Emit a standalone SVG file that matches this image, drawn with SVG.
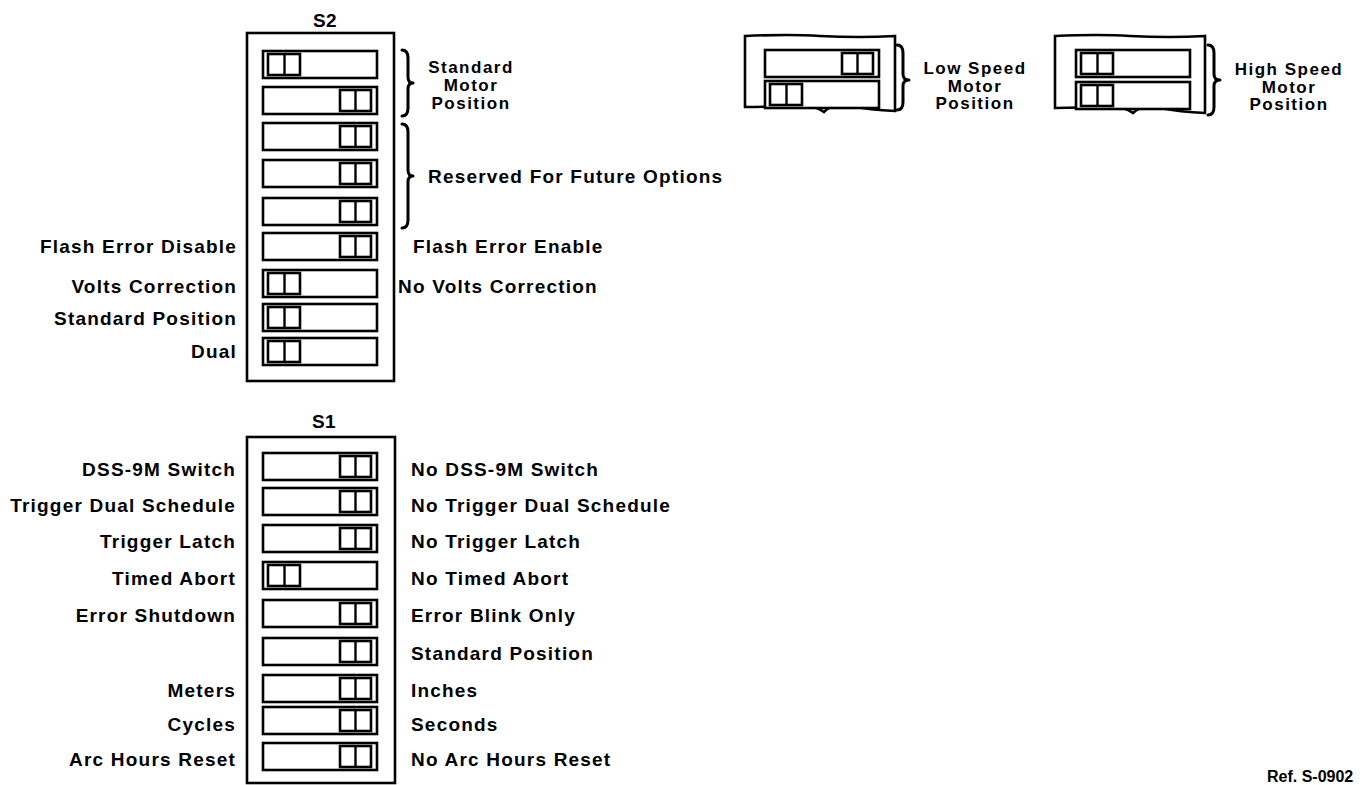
<svg xmlns="http://www.w3.org/2000/svg" xmlns:xlink="http://www.w3.org/1999/xlink" width="1363" height="785" viewBox="0 0 1363 785">
<style>
  text { font-family: "Liberation Sans", Arial, sans-serif; font-weight: bold; font-size: 19px; letter-spacing: 1.2px; fill: #000; }
  .end { text-anchor: end; }
  .mid { text-anchor: middle; }
  .ml { font-size: 17px; letter-spacing: 1.5px; }
  .title { font-size: 19px; letter-spacing: 0.5px; }
  .ref { font-size: 16px; letter-spacing: 0; }
  .frame { fill: #fff; stroke: #000; stroke-width: 2.6; }
  .sw { fill: #fff; stroke: #000; stroke-width: 2.6; }
  .knob { fill: #fff; stroke: #000; stroke-width: 2.6; }
  .brace { fill: none; stroke: #000; stroke-width: 3; stroke-linecap: round; stroke-linejoin: round; }
</style>
<defs>
  <g id="swR">
    <rect class="sw" x="0" y="0" width="114" height="27"/>
    <rect class="knob" x="77" y="3" width="31" height="21"/>
    <line x1="92.5" y1="3" x2="92.5" y2="24" stroke="#000" stroke-width="2.4"/>
  </g>
  <g id="swL">
    <rect class="sw" x="0" y="0" width="114" height="27"/>
    <rect class="knob" x="5" y="3" width="32" height="21"/>
    <line x1="21.5" y1="3" x2="21.5" y2="24" stroke="#000" stroke-width="2.4"/>
  </g>
</defs>

<g id="S2">
  <text class="title mid" x="325" y="27">S2</text>
  <rect class="frame" x="247" y="33" width="147" height="348"/>
  <use xlink:href="#swL" x="263" y="51"/>
  <use xlink:href="#swR" x="263" y="87"/>
  <use xlink:href="#swR" x="263" y="123"/>
  <use xlink:href="#swR" x="263" y="160"/>
  <use xlink:href="#swR" x="263" y="198"/>
  <use xlink:href="#swR" x="263" y="233"/>
  <use xlink:href="#swL" x="263" y="270"/>
  <use xlink:href="#swL" x="263" y="304"/>
  <use xlink:href="#swL" x="263" y="338"/>
  <text class="end" x="237" y="253">Flash Error Disable</text>
  <text class="end" x="237" y="293">Volts Correction</text>
  <text class="end" x="237" y="325">Standard Position</text>
  <text class="end" x="237" y="358">Dual</text>
  <text x="413" y="253">Flash Error Enable</text>
  <text x="398" y="293">No Volts Correction</text>
  <text class="mid ml" x="471" y="73">Standard</text>
  <text class="mid ml" x="471" y="91">Motor</text>
  <text class="mid ml" x="471" y="109">Position</text>
  <text x="428" y="183">Reserved For Future Options</text>
</g>

<g id="S1">
  <text class="title mid" x="324" y="428">S1</text>
  <rect class="frame" x="247" y="437" width="148" height="346"/>
  <use xlink:href="#swR" x="263" y="453"/>
  <use xlink:href="#swR" x="263" y="488"/>
  <use xlink:href="#swR" x="263" y="525"/>
  <use xlink:href="#swL" x="263" y="562"/>
  <use xlink:href="#swR" x="263" y="600"/>
  <use xlink:href="#swR" x="263" y="638"/>
  <use xlink:href="#swR" x="263" y="675"/>
  <use xlink:href="#swR" x="263" y="707"/>
  <use xlink:href="#swR" x="263" y="743"/>
  <text class="end" x="236" y="476">DSS-9M Switch</text>
  <text class="end" x="236" y="512">Trigger Dual Schedule</text>
  <text class="end" x="236" y="548">Trigger Latch</text>
  <text class="end" x="236" y="585">Timed Abort</text>
  <text class="end" x="236" y="622">Error Shutdown</text>
  <text class="end" x="236" y="697">Meters</text>
  <text class="end" x="236" y="731">Cycles</text>
  <text class="end" x="236" y="766">Arc Hours Reset</text>
  <text x="411" y="476">No DSS-9M Switch</text>
  <text x="411" y="512">No Trigger Dual Schedule</text>
  <text x="411" y="548">No Trigger Latch</text>
  <text x="411" y="585">No Timed Abort</text>
  <text x="411" y="622">Error Blink Only</text>
  <text x="411" y="660">Standard Position</text>
  <text x="411" y="697">Inches</text>
  <text x="411" y="731">Seconds</text>
  <text x="411" y="766">No Arc Hours Reset</text>
</g>

<g id="LowSpeed">
  <path class="frame" d="M745,36 Q790,34 820,36 Q860,38 895,36 L895,111 Q870,110 850,106 Q832,103 824,112 Q815,105 795,105 Q770,107 745,107 Z"/>
  <use xlink:href="#swR" x="765" y="50"/>
  <use xlink:href="#swL" x="765" y="81"/>
  <text class="mid ml" x="975" y="74">Low Speed</text>
  <text class="mid ml" x="975" y="91.5">Motor</text>
  <text class="mid ml" x="975" y="109">Position</text>
</g>

<g id="HighSpeed">
  <path class="frame" d="M1055,36 Q1100,34 1130,36 Q1170,38 1205,36 L1205,113 Q1180,112 1160,108 Q1142,104 1133,113 Q1124,106 1105,106 Q1080,108 1055,108 Z"/>
  <use xlink:href="#swL" x="1076" y="50"/>
  <use xlink:href="#swL" x="1076" y="82"/>
  <text class="mid ml" x="1289" y="75">High Speed</text>
  <text class="mid ml" x="1289" y="92.5">Motor</text>
  <text class="mid ml" x="1289" y="110">Position</text>
</g>

<g id="connectors">
  <path class="brace" d="M402,50 Q408,50 408,58 L408,77 Q408,83 413,83 Q408,83 408,89 L408,108 Q408,116 402,116"/>
  <path class="brace" d="M402,124 Q408,124 408,132 L408,170 Q408,176 413,176 Q408,176 408,182 L408,220 Q408,228 402,228"/>
  <path class="brace" d="M897,45 Q903,45 903,53 L903,74 Q903,80 909,80 Q903,80 903,86 L903,102 Q903,110 897,110"/>
  <path class="brace" d="M1208,45 Q1214,45 1214,53 L1214,74 Q1214,80 1220,80 Q1214,80 1214,86 L1214,107 Q1214,115 1208,115"/>
</g>

<text class="ref" x="1267" y="782">Ref. S-0902</text>
</svg>
